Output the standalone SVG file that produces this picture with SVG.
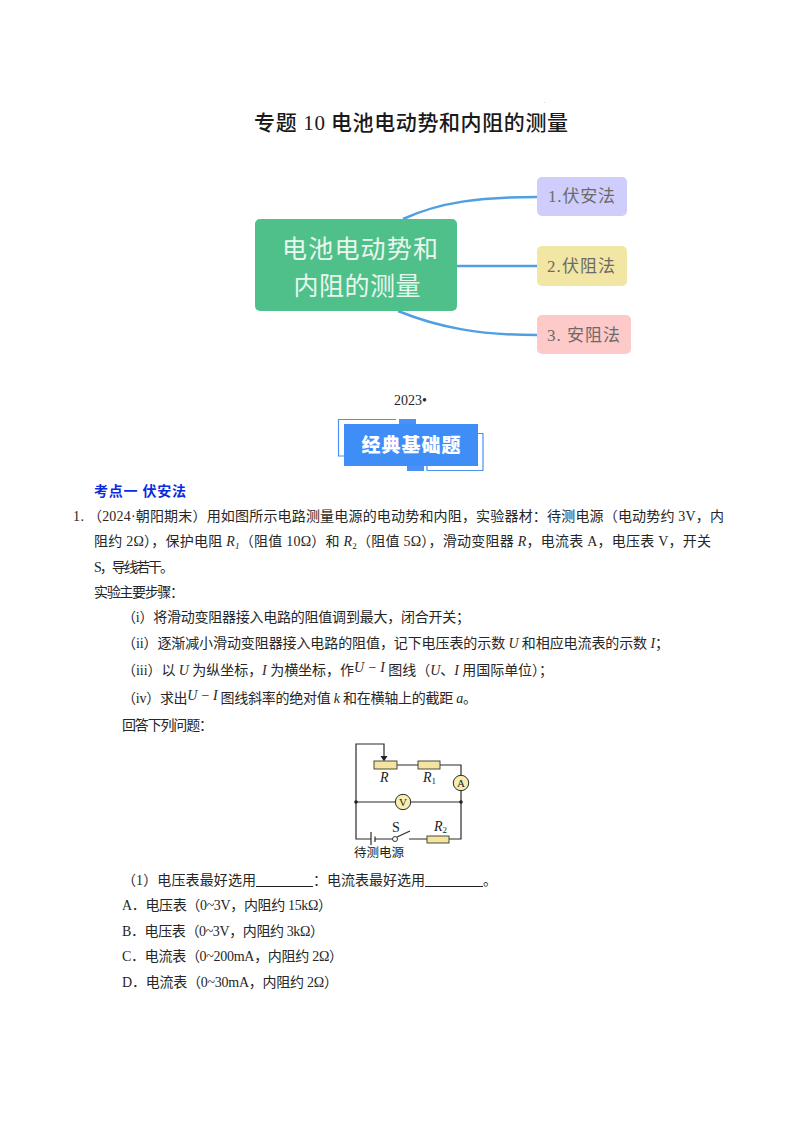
<svg xmlns="http://www.w3.org/2000/svg" width="800" height="1132" viewBox="0 0 800 1132">
<style>
.b{font-family:"Liberation Serif","Noto Sans CJK SC",serif;font-size:14px;fill:#262626}
.i{font-style:italic}
.s{font-size:9px}
.t{font-family:"Liberation Serif","Noto Sans CJK SC",sans-serif;font-size:21px;fill:#1a1a1a;font-weight:500}
.mm{font-family:"Liberation Serif","Noto Sans CJK SC",sans-serif;font-size:17px;fill:#6d6a6a}
.root{font-family:"Noto Sans CJK SC",sans-serif;font-size:25px;fill:#e9f7ef;text-anchor:middle}
.h{font-family:"Noto Sans CJK SC",sans-serif;font-size:14px;font-weight:700;fill:#0a2be0}
.w{fill:none;stroke:#2b2b2b;stroke-width:1.2}
.r{fill:#f3e4a2;stroke:#3a3a2a;stroke-width:.9}
.m{fill:#f7eeb0;stroke:#2b2b2b;stroke-width:1}
.c{font-family:"Liberation Serif","Noto Sans CJK SC",serif;font-size:14px;fill:#222}
.l{fill:none;stroke:#4f9fe2;stroke-width:2.5}
.o{fill:none;stroke:#4a90f5;stroke-width:1.2}
</style>
<text class="b" x="544" y="103" style="font-size:4px">.</text>
<text class="t" x="254" y="130" textLength="71">专题 10</text>
<text class="t" x="331" y="130" textLength="237">电池电动势和内阻的测量</text>

<g id="connectors">
<path class="l" d="M403 219C440 202 480 197 537 197"/>
<path class="l" d="M457 266H537"/>
<path class="l" d="M398 311C440 328 480 335 537 335"/>
</g>
<g id="root"><rect x="255" y="219" width="202" height="92" rx="5" fill="#50c08a"/>
<text class="root" x="360" y="258" textLength="156">电池电动势和</text>
<text class="root" x="357" y="294.500" textLength="127">内阻的测量</text></g>
<g id="n1"><rect x="537" y="177" width="90" height="39" rx="5" fill="#cfcdfb"/><text class="mm" x="548" y="202" textLength="67">1.伏安法</text></g>
<g id="n2"><rect x="537" y="246" width="90" height="40" rx="5" fill="#f1e6a3"/><text class="mm" x="547" y="272" textLength="68">2.伏阻法</text></g>
<g id="n3"><rect x="537" y="315" width="94" height="39" rx="5" fill="#fdc9c9"/><text class="mm" x="547" y="341" textLength="73">3. 安阻法</text></g>

<text class="b" x="394" y="405" textLength="33">2023•</text>

<g id="badge">
<path class="o" d="M396 419.500H338.500V456H344"/>
<rect x="399" y="419" width="17" height="5" fill="#4a90f5"/>
<path class="o" d="M478 433.500H483V470.500H427V466"/>
<rect x="407" y="466" width="17" height="5" fill="#4a90f5"/>
<rect x="344" y="424" width="134" height="42" fill="#3f8ef7"/>
<text x="411" y="452" text-anchor="middle" textLength="99" style="font-family:'Noto Sans CJK SC',sans-serif;font-size:19px;font-weight:900;fill:#fff">经典基础题</text>
</g>

<text class="h" x="94" y="496" textLength="92">考点一  伏安法</text>
<text class="b" x="73" y="521" textLength="11">1.</text>
<text class="b" x="88" y="521" textLength="636">（2024·朝阳期末）用如图所示电路测量电源的电动势和内阻，实验器材：待测电源（电动势约 3V，内</text>
<text class="b" x="94" y="546" textLength="617">阻约 2Ω），保护电阻 <tspan class="i">R</tspan><tspan class="i s" dy="3">1</tspan><tspan dy="-3">（阻值 10Ω）和 </tspan><tspan class="i">R</tspan><tspan class="s" dy="3">2</tspan><tspan dy="-3">（阻值 5Ω），滑动变阻器 </tspan><tspan class="i">R</tspan>，电流表 A，电压表 V，开关</text>
<text class="b" x="94" y="572" textLength="80">S，导线若干。</text>
<text class="b" x="94" y="597" textLength="90">实验主要步骤：</text>
<text class="b" x="122" y="622" textLength="348">（i）将滑动变阻器接入电路的阻值调到最大，闭合开关；</text>
<text class="b" x="122" y="648" textLength="547">（ii）逐渐减小滑动变阻器接入电路的阻值，记下电压表的示数 <tspan class="i">U</tspan> 和相应电流表的示数 <tspan class="i">I</tspan>；</text>
<text class="b" x="122" y="675" textLength="431">（iii）以 <tspan class="i">U</tspan> 为纵坐标，<tspan class="i">I</tspan> 为横坐标，作<tspan class="i" dy="-3">U − I</tspan><tspan dy="3"> 图线（</tspan><tspan class="i">U</tspan>、<tspan class="i">I</tspan> 用国际单位）；</text>
<text class="b" x="122" y="703" textLength="355">（iv）求出<tspan class="i" dy="-3">U − I</tspan><tspan dy="3"> 图线斜率的绝对值 </tspan><tspan class="i">k</tspan> 和在横轴上的截距 <tspan class="i">a</tspan>。</text>
<text class="b" x="122" y="730" textLength="91">回答下列问题：</text>

<g id="circuit">
<path class="w" d="M356 802V744H384V760"/>
<path d="M380.500 756H387.500L384 761.500Z" fill="#222"/>
<path class="w" d="M397 765H418M440 765H461V776M461 790V839H449M427 839H409M397 837L410 831M392.500 839H375M371 839H356V802M356 802H396M410 802H461"/>
<path class="w" d="M371 832V845M375 836.500V842"/>
<rect class="r" x="374" y="761" width="23" height="8"/>
<rect class="r" x="418" y="761" width="22" height="8"/>
<rect class="r" x="427" y="836" width="22" height="7"/>
<circle cx="395" cy="839" r="2.500" fill="#fff" stroke="#333"/>
<circle cx="356" cy="802" r="1.800" fill="#222"/><circle cx="461" cy="802" r="1.800" fill="#222"/>
<circle class="m" cx="461" cy="783" r="7.700"/><circle class="m" cx="403" cy="802" r="7.700"/>
<text class="c" x="461" y="787" text-anchor="middle" style="font-size:11px">A</text>
<text class="c" x="403" y="806" text-anchor="middle" style="font-size:11px">V</text>
<text class="c i" x="380" y="782">R</text>
<text class="c i" x="423" y="782">R<tspan class="s" dy="2" font-style="normal">1</tspan></text>
<text class="c" x="392" y="832">S</text>
<text class="c i" x="434" y="831">R<tspan class="s" dy="2" font-style="normal">2</tspan></text>
<text class="c" x="354" y="857" textLength="50" style="font-size:12.500px">待测电源</text>
</g>

<text class="b" x="122" y="885" textLength="134">（1）电压表最好选用</text>
<path d="M256 886.500H313M425 886.500H483" stroke="#222" stroke-width="1.200"/>
<text class="b" x="313" y="885">：</text>
<text class="b" x="327" y="885" textLength="98">电流表最好选用</text>
<text class="b" x="483" y="885">。</text>
<text class="b" x="122" y="910" textLength="210">A．电压表（0~3V，内阻约 15kΩ）</text>
<text class="b" x="122" y="936" textLength="202">B．电压表（0~3V，内阻约 3kΩ）</text>
<text class="b" x="122" y="961" textLength="221">C．电流表（0~200mA，内阻约 2Ω）</text>
<text class="b" x="122" y="987" textLength="216">D．电流表（0~30mA，内阻约 2Ω）</text>
</svg>
